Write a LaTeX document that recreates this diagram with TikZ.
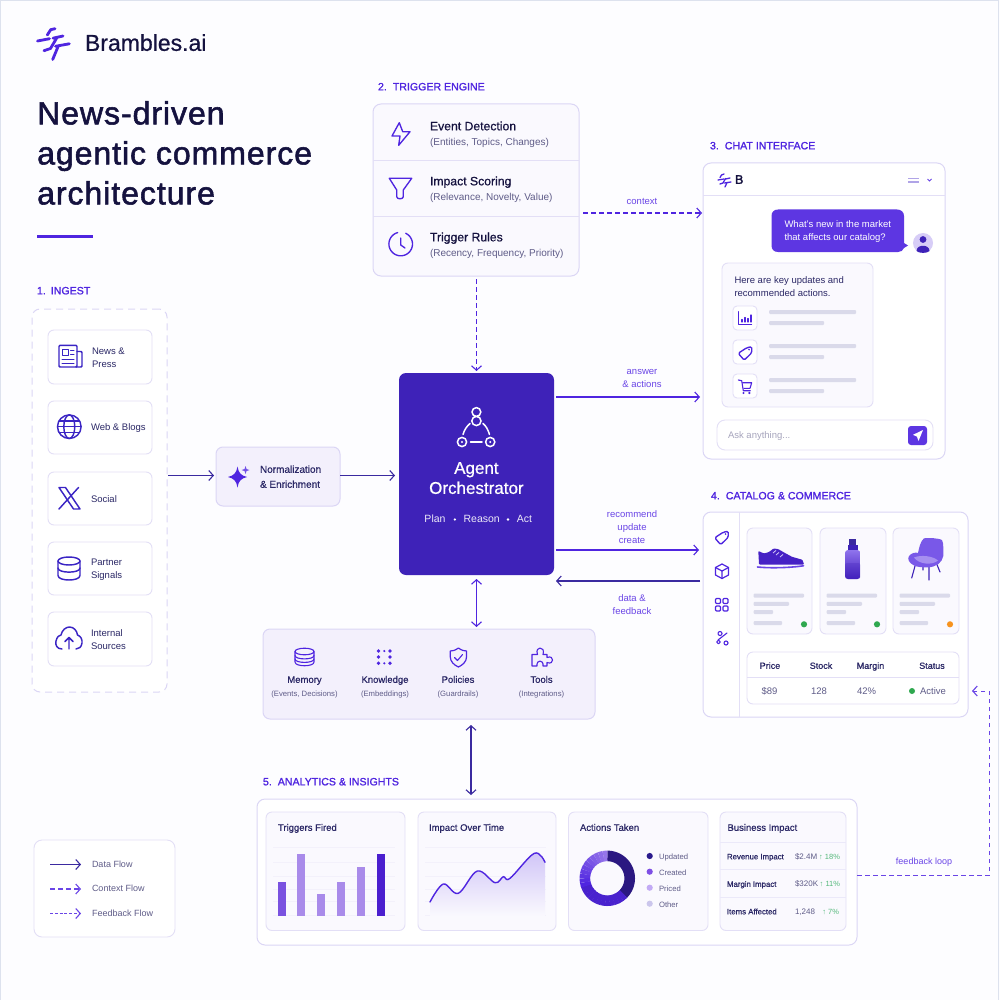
\documentclass[tikz,border=0pt]{standalone}
\usepackage{fontspec}
\usetikzlibrary{arrows.meta,calc}
\setmainfont{Liberation Sans}
\newfontfamily\medf[FakeBold=0.7]{Liberation Sans}
\newfontfamily\semf[FakeBold=1.3]{Liberation Sans}
\newfontfamily\boldf[FakeBold=2.2]{Liberation Sans}
\newfontfamily\titlef[FakeBold=1.7,LetterSpace=3]{Liberation Sans}
\definecolor{pagebg}{HTML}{FDFDFF}
\definecolor{edgeline}{HTML}{DDE2EE}
\definecolor{ink}{HTML}{15123F}
\definecolor{inksoft}{HTML}{2B2866}
\definecolor{greytext}{HTML}{5F5C88}
\definecolor{violet}{HTML}{4F25E0}
\definecolor{ingestblue}{HTML}{3A24C4}
\definecolor{indigoline}{HTML}{3B2AA0}
\definecolor{orchfill}{HTML}{3E22B8}
\definecolor{cardline}{HTML}{E3DFF6}
\definecolor{panelline}{HTML}{DBD6F5}
\definecolor{lav}{HTML}{F3F0FC}
\definecolor{softfill}{HTML}{FAF9FE}
\definecolor{skeleton}{HTML}{DADAEA}
\definecolor{labelviolet}{HTML}{6A45E6}
\definecolor{ringlight}{HTML}{9575EA}
\definecolor{okgreen}{HTML}{2FA84F}
\definecolor{upgreen}{HTML}{55B97B}
\definecolor{amber}{HTML}{F7931E}
\newcommand{\fs}[2]{\fontsize{#1}{#2}\selectfont}
% boxes are given by their corners in pixel-like units
\newcommand{\card}[6][]{%
  \pgfmathsetmacro\bw{#5-#3}\pgfmathsetmacro\bh{#6-#4}%
  \node[#1,anchor=north west,minimum width=\bw pt,minimum height=\bh pt,inner sep=0pt,outer sep=0pt] (#2) at (#3,#4) {};}
\newcounter{labno}
\newcommand{\lab}[4][]{\stepcounter{labno}\node[lbl,#1] (t\arabic{labno}) at (#2,#3) {#4};}
\newcommand{\tagicon}[2]{\begin{scope}[shift={(#1,#2)}]
  \draw[icon,rounded corners=1.5pt] (-6.8,0.3) -- (1.8,-5.3) -- (6.8,-6.3) -- (6.8,-0.3) -- (-0.8,7.2) -- cycle;
  \fill[violet] (4,-3.4) circle[radius=0.9pt];
\end{scope}}
\newcommand{\skeletonline}[3]{\fill[skeleton,rounded corners=1pt] (#1,#3-2) rectangle (#2,#3+2);}
\tikzset{
  lbl/.style={inner sep=0pt,outer sep=0pt,text=inksoft,anchor=mid,yshift=-0.7pt},
  whitecard/.style={draw=cardline,line width=0.9pt,fill=white,rounded corners=6pt},
  softcard/.style={draw=cardline,line width=0.9pt,fill=softfill,rounded corners=6pt},
  panel/.style={draw=panelline,line width=1pt,fill=white,rounded corners=8pt},
  lavpanel/.style={draw=panelline,line width=1pt,fill=lav,rounded corners=7pt},
  icon/.style={draw=violet,line width=1.35pt,line join=round,line cap=round},
  sectionhead/.style={anchor=mid west,text=violet,font=\semf\fs{10.6}{13}},
  flowlabel/.style={text=labelviolet,font=\fs{9.5}{13},align=center,anchor=center},
  barb/.style={-{Straight Barb[length=4.5pt,width=10pt,line width=1.1pt]}},
  databarb/.style={line width=1.4pt,draw=indigoline,barb},
  actionbarb/.style={line width=1.4pt,draw=violet,barb},
  contextbarb/.style={line width=1.05pt,draw=violet,dash pattern=on 4.5pt off 3.5pt,barb},
  twoway/.style={line width=1.1pt,{Straight Barb[length=4.5pt,width=10pt,line width=1.1pt]}-{Straight Barb[length=4.5pt,width=10pt,line width=1.1pt]}},
  title1/.style={anchor=north west,inner sep=0pt,text=ink,font=\titlef\fs{32}{40},align=left},
  cell/.style={font=\fs{9.5}{12},text=greytext},
  cellhead/.style={font=\medf\fs{9}{12},text=inksoft},
  tiny/.style={font=\fs{7.7}{10},text=greytext},
  rowhead/.style={anchor=mid west,font=\medf\fs{7.8}{10},text=inksoft},
  rowval/.style={anchor=mid west,font=\fs{8}{10},text=greytext},
  rowdelta/.style={anchor=mid east,font=\fs{7.5}{10},text=upgreen},
  cardtitle/.style={anchor=mid west,font=\medf\fs{9.5}{12},text=inksoft},
}
\begin{document}
\begin{tikzpicture}[x=1pt,y=-1pt]
\useasboundingbox (0,0) rectangle (1000,1000);
\fill[pagebg] (0,0) rectangle (1000,1000);
\draw[edgeline,line width=1pt] (0.5,1000) -- (0.5,0.5) -- (998.5,0.5) -- (998.5,1000);

% ---- brand mark and heading ----
\begin{scope}[draw=violet,line width=2.8pt,line cap=round,line join=round]
  \draw (55,28.7) -- (50.7,29.7) -- (47.3,35);
  \draw (37.5,41) -- (49.5,38.7);
  \draw (53,38.2) -- (63,36);
  \draw (57,37.5) -- (50.5,48.5) -- (44,50.7);
  \draw (55.5,46.3) -- (69.3,43.8);
  \draw (58.3,46) -- (52.7,59.5);
\end{scope}
\lab[anchor=mid west,text=ink,font=\medf\fs{23}{28}]{85}{47.5}{Brambles.ai}
\node[title1] (headline) at (37,101) {News-driven\\agentic commerce\\architecture};
\fill[violet] (37,235.3) rectangle (93,238);

% ---- 1. ingest ----
\lab[sectionhead]{37}{291}{1.\hspace{5pt}INGEST}
\card[draw=panelline,line width=1pt,dash pattern=on 7pt off 5pt,fill=white,rounded corners=8pt]{ingest}{32}{309}{167}{692}
\card[whitecard]{newsC}{48}{330}{152}{384}
\card[whitecard]{webC}{48}{401}{152}{454}
\card[whitecard]{socialC}{48}{472}{152}{525}
\card[whitecard]{partnerC}{48}{542}{152}{595}
\card[whitecard]{internalC}{48}{612}{152}{666}
\lab[anchor=west,font=\fs{9.5}{13.5},align=left]{92}{357}{News \&\\Press}
\lab[anchor=west,font=\fs{9.5}{13.5}]{91}{427}{Web \& Blogs}
\lab[anchor=west,font=\fs{9.5}{13.5}]{91}{498.5}{Social}
\lab[anchor=west,font=\fs{9.5}{13.5},align=left]{91}{569}{Partner\\Signals}
\lab[anchor=west,font=\fs{9.5}{13.5},align=left]{91}{639}{Internal\\Sources}
\begin{scope}[icon/.append style={draw=ingestblue,line width=1.45pt}]
% newspaper
\draw[icon,rounded corners=1pt] (59,345.3) rectangle (77,367);
\draw[icon,rounded corners=1pt] (77,351.5) -- (82,351.5) -- (82,367) -- (76,367);
\draw[icon,line width=1pt] (62,349.5) rectangle (68,355.5);
\draw[icon,line width=1pt] (70.5,350) -- (74,350) (70.5,354) -- (74,354) (62,359.5) -- (74,359.5) (62,363) -- (74,363);
% globe
\draw[icon] (69.3,426.7) circle[radius=11.8pt];
\draw[icon] (69.3,426.7) ellipse[x radius=5.5pt,y radius=11.8pt];
\draw[icon] (57.5,426.7) -- (81,426.7) (59,421) -- (79.5,421) (59,432.4) -- (79.5,432.4);
% X mark
\draw[icon] (59,487.5) -- (65.5,487.5) -- (80,509) -- (73.5,509) -- cycle;
\draw[icon] (78.5,487.5) -- (59,509);
% database
\draw[icon] (69,561) ellipse[x radius=11pt,y radius=4pt];
\draw[icon] (58,561) -- (58,575.5) .. controls (58,581.5) and (80,581.5) .. (80,575.5) -- (80,561);
\draw[icon] (58,568) .. controls (58,573.5) and (80,573.5) .. (80,568);
% cloud upload
\draw[icon] (62,649) .. controls (57,649) and (55,645) .. (56,641) .. controls (57,637) and (59,635) .. (61,635) .. controls (62,630) and (66,627) .. (69.5,627) .. controls (74,627) and (77,631) .. (77.5,635) .. controls (81,636) and (82.5,640) .. (82,643) .. controls (81.5,647) and (79,649) .. (76,649);
\draw[icon] (69,649) -- (69,637.5) (65,641.5) -- (69,637.5) -- (73,641.5);
\end{scope}

% ---- normalization ----
\card[lavpanel]{norm}{216}{447}{340}{506}
\lab[anchor=west,font=\medf\fs{10}{15},align=left]{260}{476}{Normalization\\\& Enrichment}
\fill[violet] (237.5,466.5) .. controls (238.5,473) and (241,475.5) .. (247,477) .. controls (241,478.5) and (238.5,481) .. (237.5,487.5) .. controls (236.5,481) and (234,478.5) .. (228,477) .. controls (234,475.5) and (236.5,473) .. (237.5,466.5) -- cycle;
\fill[violet!80!white] (245.5,466) -- (246.5,469) -- (249.5,470) -- (246.5,471) -- (245.5,474) -- (244.5,471) -- (241.5,470) -- (244.5,469) -- cycle;

% ---- 2. trigger engine ----
\lab[sectionhead]{378}{87}{2.\hspace{6pt}TRIGGER ENGINE}
\card[panel,fill=softfill]{trigger}{373}{104}{579}{276}
\draw[cardline,line width=1pt] (373,160.5) -- (579,160.5) (373,217) -- (579,217);
\lab[anchor=mid west,font=\medf\fs{12.2}{14},text=ink]{430}{127}{Event Detection}
\lab[anchor=mid west,font=\fs{10}{13},text=greytext]{430}{142.5}{(Entities, Topics, Changes)}
\lab[anchor=mid west,font=\medf\fs{12.2}{14},text=ink]{430}{182}{Impact Scoring}
\lab[anchor=mid west,font=\fs{10}{13},text=greytext]{430}{197}{(Relevance, Novelty, Value)}
\lab[anchor=mid west,font=\medf\fs{12.2}{14},text=ink]{430}{238}{Trigger Rules}
\lab[anchor=mid west,font=\fs{10}{13},text=greytext]{430}{253.5}{(Recency, Frequency, Priority)}
\draw[icon] (399.3,122.7) -- (392,136) -- (400,136) -- (398.7,145.3) -- (410,131.7) -- (402.7,131.7) -- cycle;
\draw[icon] (389.3,178.3) -- (411.7,178.3) -- (403.3,190) -- (403.3,196.7) .. controls (403.3,199.5) and (396.7,199.5) .. (396.7,196.7) -- (396.7,190) -- cycle;
\draw[icon] plot[domain=25:345,samples=40] ({400.7+11.8*sin(\x)},{244-11.8*cos(\x)});
\draw[icon] (400.7,238) -- (400.7,245) -- (405,248);

% ---- 3. chat interface ----
\lab[sectionhead]{710}{146}{3.\hspace{6pt}CHAT INTERFACE}
\card[panel]{chat}{703}{163}{945}{459}
\draw[cardline,line width=1pt] (703,196) -- (945,196);
\begin{scope}[draw=violet,line width=1.3pt,line cap=round,line join=round]
  \draw (724,174) -- (721.5,175) -- (720,177.5);
  \draw (718,180) -- (724,179);
  \draw (725.5,179) -- (730,178);
  \draw (725.5,178.5) -- (723,183) -- (720,184);
  \draw (724.5,183) -- (731,182);
  \draw (727,182.5) -- (725,187);
\end{scope}
\lab[anchor=mid west,font=\boldf\fs{12.5}{14},text=ink]{735}{180.5}{B}
\draw[skeleton!70!violet,line width=1.2pt] (908,178.3) -- (919,178.3) (908,182) -- (919,182);
\draw[labelviolet,line width=1pt] (927.5,179) -- (929.5,181) -- (931.5,179);
\path[fill=violet!92!white] (778,209.5) -- (897,209.5) .. controls (901,209.5) and (904,212) .. (904,216) -- (904,243) -- (908,245.5) -- (904,248) .. controls (903,250.5) and (901,252) .. (898,252) -- (778,252) .. controls (774,252) and (771.5,249.5) .. (771.5,245.5) -- (771.5,216) .. controls (771.5,212) and (774,209.5) .. (778,209.5) -- cycle;
\lab[anchor=west,font=\fs{9.5}{13.5},align=left,text=white]{784.5}{231}{What's new in the market\\that affects our catalog?}
\fill[lav!80!violet!90!white] (923,243) circle[radius=10pt];
\fill[orchfill] (923,239.5) circle[radius=3.4pt];
\fill[orchfill] (916.5,251) .. controls (916.5,244) and (929.5,244) .. (929.5,251) .. controls (927,253.5) and (919,253.5) .. (916.5,251) -- cycle;
\card[softcard]{reply}{722}{263}{873}{407}
\lab[anchor=west,font=\fs{9.5}{13},align=left]{734.5}{285.5}{Here are key updates and\\recommended actions.}
\card[whitecard,rounded corners=4pt]{replyA}{733}{306}{757}{330}
\card[whitecard,rounded corners=4pt]{replyB}{733}{340}{757}{364}
\card[whitecard,rounded corners=4pt]{replyC}{733}{374}{757}{398}
\draw[icon,line width=1pt] (738.7,311.7) -- (738.7,324) -- (751.7,324);
\draw[icon,line width=1.1pt] (742,322) -- (742,319.5) (745,322) -- (745,317.5) (748,322) -- (748,318.5) (751,322) -- (751,315);
\tagicon{745}{353}
\draw[icon,line width=1.1pt] (738.3,380) -- (741.7,380.7) -- (743.3,390.7) -- (750.3,390.7);
\draw[icon,line width=1.1pt] (742.7,382.7) -- (751.7,382.7) -- (750,388.3) -- (743.9,388.3);
\fill[violet] (743.5,393) circle[radius=1.2pt] (749.3,393) circle[radius=1.2pt];
\skeletonline{769}{856}{312}\skeletonline{769}{824}{323}
\skeletonline{769}{856}{346}\skeletonline{769}{824}{357}
\skeletonline{769}{856}{380}\skeletonline{769}{824}{391}
\card[whitecard,rounded corners=8pt]{askbar}{717}{420}{933}{450}
\lab[anchor=mid west,font=\fs{9.5}{12},text=greytext!55!white]{728}{435.5}{Ask anything...}
\card[fill=violet!92!white,rounded corners=3pt]{sendbtn}{908}{426}{927}{445}
\fill[white] (923,430) -- (913,434.8) -- (917,436.7) -- (918.5,441) -- cycle;

% ---- 4. catalog and commerce ----
\lab[sectionhead]{711}{496}{4.\hspace{6pt}CATALOG \& COMMERCE}
\card[panel]{catalog}{703}{512}{968}{717}
\draw[cardline,line width=1pt] (739.5,512) -- (739.5,717);
\tagicon{721.5}{537.5}
% cube
\draw[icon,line width=1.2pt] (722,564) -- (728.5,567.5) -- (728.5,575) -- (722,578.5) -- (715.5,575) -- (715.5,567.5) -- cycle;
\draw[icon,line width=1.2pt] (715.5,567.5) -- (722,571) -- (728.5,567.5) (722,571) -- (722,578.5);
% grid of four tiles
\draw[icon,rounded corners=1pt,line width=1.2pt] (715.5,598.5) rectangle (720.5,603.5) (723,598.5) rectangle (728,603.5) (715.5,606) rectangle (720.5,611) (723,606) rectangle (728,611);
% discount marks
\draw[icon,line width=1.1pt] (720,633.5) circle[radius=2pt] (726,643) circle[radius=2pt] (718.5,642) circle[radius=1.8pt] (718,640) -- (727,633);
\card[softcard]{prodA}{747}{528}{812}{634}
\card[softcard]{prodB}{820}{528}{886}{634}
\card[softcard]{prodC}{893}{528}{959}{634}
\foreach \off/\dotcol in {0/okgreen,73/okgreen,146/amber}{
  \skeletonline{753.5+\off}{804+\off}{595.7}
  \skeletonline{753.5+\off}{789+\off}{603.8}
  \skeletonline{753.5+\off}{773+\off}{612}
  \skeletonline{753.5+\off}{782+\off}{623}
  \fill[\dotcol] (804+\off,624.3) circle[radius=3.1pt];
}
% sneaker
\fill[violet!88!black,rounded corners=0.8pt] (758.3,551) -- (764,553.5) -- (769,552) -- (773.5,548.5) -- (778,549) -- (785,553) -- (792,556.8) -- (802.5,559.8) -- (804,564.5) -- (759,564.5) -- cycle;
\draw[white!75!violet,line width=0.8pt] (773,553) -- (776,550.5) (776,555) -- (779,552.5) (780,557) -- (783,554.5);
\draw[labelviolet,line width=1.6pt,line cap=round] (757.5,567) .. controls (770,568.3) and (790,567.8) .. (803.5,565.8);
% spray bottle
\fill[indigoline] (849,538.7) rectangle (855.7,545);
\fill[orchfill] (847.5,545) rectangle (857.5,550);
\path[rounded corners=3pt,top color=labelviolet!75!white,bottom color=violet!85!black] (845,550) rectangle (860.3,579);
\fill[orchfill,opacity=0.25,rounded corners=2pt] (845,563) rectangle (860.3,579);
% armchair
\draw[orchfill,line width=1.1pt,line cap=round] (915,566) -- (911.7,578) (929,567) -- (929,580) (936.7,564) -- (940,572) (923,567) -- (923,570);
\path[fill=labelviolet!90!white] (924,538.3) .. controls (930,537.5) and (938,538.5) .. (941,539.5) .. controls (943,540.5) and (943.5,543) .. (943.3,556) .. controls (942,563) and (936,567) .. (928,567.3) .. controls (922,567.5) and (917,567) .. (914,565.5) .. controls (909,563) and (907,559) .. (909,556) .. controls (911,553) and (916,552) .. (918,553) .. controls (919,548) and (920.5,541) .. (924,538.3) -- cycle;
\path[fill=labelviolet!60!white] (914,557.5) .. controls (921,554.5) and (933,556) .. (938,560.5) .. controls (932,565.5) and (919,564.5) .. (914,557.5) -- cycle;
\card[whitecard]{stats}{747}{652}{959}{704}
\draw[cardline,line width=1pt] (747,677.5) -- (959,677.5);
\lab[cellhead]{770}{665.5}{Price}
\lab[cellhead]{821}{665.5}{Stock}
\lab[cellhead]{870.5}{665.5}{Margin}
\lab[cellhead]{932}{665.5}{Status}
\lab[cell]{769.5}{691}{\$89}
\lab[cell]{819}{691}{128}
\lab[cell]{866.5}{691}{42\%}
\fill[okgreen] (912,691) circle[radius=3pt];
\lab[cell]{933}{691}{Active}

% ---- orchestrator ----
\card[fill=orchfill,draw=none,rounded corners=7pt]{orch}{399}{373}{554}{575}
\begin{scope}[draw=white,line width=1.5pt,line cap=round]
  \draw (476.4,412) circle[radius=4.4pt] (476.4,421) circle[radius=4.6pt] (462,442) circle[radius=4.6pt] (490.2,442) circle[radius=4.6pt];
  \draw (470.5,442) -- (482,442);
  \draw (463,434.5) .. controls (464.5,429.5) and (467,426) .. (470,423.5);
  \draw (483,423.5) .. controls (486,426) and (488,429.5) .. (489.5,434.5);
\end{scope}
\fill[white] (462,442) circle[radius=1.2pt] (490.2,442) circle[radius=1.2pt];
\lab[text=white,font=\medf\fs{17}{20}]{476.4}{470.5}{Agent}
\lab[text=white,font=\medf\fs{17}{20}]{476.4}{490.5}{Orchestrator}
\lab[text=white!90!orchfill,font=\fs{10.5}{13}]{435}{519.5}{Plan}
\lab[text=white!90!orchfill,font=\fs{10.5}{13}]{481.7}{519.5}{Reason}
\lab[text=white!90!orchfill,font=\fs{10.5}{13}]{524.5}{519.5}{Act}
\fill[white] (454.8,519.5) circle[radius=1.3pt] (508,519.5) circle[radius=1.3pt];

% ---- shared services ----
\card[lavpanel]{services}{263}{629}{595}{719}
\draw[icon,line width=1.1pt] (304.5,651.5) ellipse[x radius=9.5pt,y radius=3.3pt];
\draw[icon,line width=1.1pt] (295,651.5) -- (295,662) .. controls (295,667) and (314,667) .. (314,662) -- (314,651.5);
\draw[icon,line width=1.1pt] (295,655.5) .. controls (295,660) and (314,660) .. (314,655.5) (295,659) .. controls (295,663.5) and (314,663.5) .. (314,659);
\fill[violet] (378.5,651) circle[radius=1.9pt] (390,651) circle[radius=1.9pt] (384.3,651) circle[radius=1.2pt]
  (378.5,657) circle[radius=1.9pt] (390,657) circle[radius=1.9pt]
  (378.5,663.3) circle[radius=1.9pt] (390,663.3) circle[radius=1.9pt] (384.3,663.3) circle[radius=1.2pt];
\draw[icon,line width=1.2pt] (458.4,648) .. controls (455,650.5) and (452.5,651) .. (450.3,651) -- (450.3,657) .. controls (450.3,661.5) and (454,665) .. (458.4,667) .. controls (462.8,665) and (466.5,661.5) .. (466.5,657) -- (466.5,651) .. controls (464.3,651) and (461.8,650.5) .. (458.4,648) -- cycle;
\draw[icon,line width=1.1pt] (454.5,657.5) -- (457.5,660.5) -- (462.5,654.5);
\draw[icon,line width=1.1pt] (532,654.5) -- (537.5,654.5) .. controls (536,650) and (538,648) .. (540,648) .. controls (542.5,648) and (544.3,650) .. (543,654.5) -- (547,654.5) -- (547,657.5) .. controls (551,656) and (552.5,658) .. (552.5,660) .. controls (552.5,662) and (551,664) .. (547,662.5) -- (547,666) -- (543,666) .. controls (543.5,662.5) and (541.5,661) .. (540,661) .. controls (538.5,661) and (536.5,662.5) .. (537,666) -- (532,666) -- cycle;
\foreach \cx/\head/\sub in {304.5/Memory/{(Events, Decisions)},385/Knowledge/{(Embeddings)},458/Policies/{(Guardrails)},541.5/Tools/{(Integrations)}}{
  \lab[font=\medf\fs{9.5}{12}]{\cx}{679.5}{\head}
  \lab[tiny]{\cx}{693.5}{\sub}
}

% ---- 5. analytics and insights ----
\lab[sectionhead]{263}{782}{5.\hspace{6pt}ANALYTICS \& INSIGHTS}
\card[panel]{analytics}{257}{799}{857}{945}
\card[softcard]{chartA}{266}{812}{405}{930.5}
\card[softcard]{chartB}{418}{812}{556}{930.5}
\card[softcard]{chartC}{568.5}{812}{708}{930.5}
\card[softcard]{chartD}{720}{812}{846}{930.5}
\lab[cardtitle]{278}{827.5}{Triggers Fired}
\lab[cardtitle]{429}{827.5}{Impact Over Time}
\lab[cardtitle]{580}{827.5}{Actions Taken}
\lab[cardtitle]{727.5}{827.5}{Business Impact}
\foreach \gy in {847.7,862.3,876.7,889.3,901.7,915.7}{
  \draw[cardline!45!white,line width=0.5pt] (273,\gy) -- (395,\gy);
  \draw[cardline!45!white,line width=0.5pt] (425,\gy) -- (546,\gy);
}
\foreach \bx/\bt/\bc in {281.7/882.3/7A52E0,301.3/853.7/A98BEA,321.3/894.3/A98BEA,341/882.3/A98BEA,360.7/867/A98BEA,380.7/853.7/4B1FCF}{
  \definecolor{barcol}{HTML}{\bc}
  \fill[barcol] (\bx-4.1,\bt) rectangle (\bx+4.1,915.7);
}
\path[top color=labelviolet!32!white,bottom color=softfill] plot[smooth,tension=0.6] coordinates {(430,902) (443.3,884) (458.3,893.3) (477.3,871) (495,882.7) (503.3,876.7) (510,878.3) (534.3,853.3) (545,862.3)} -- (545,916) -- (430,916) -- cycle;
\draw[violet,line width=1.4pt,line cap=round] plot[smooth,tension=0.6] coordinates {(430,902) (443.3,884) (458.3,893.3) (477.3,871) (495,882.7) (503.3,876.7) (510,878.3) (534.3,853.3) (545,862.3)};
% ring chart, angles clockwise from twelve o'clock
\draw[line width=10.6pt,draw=orchfill!70!black] plot[domain=0:135,samples=40] ({607.3+22.4*sin(\x)},{878.3-22.4*cos(\x)});
\foreach \a in {134,144,...,244}{
  \draw[line width=10.6pt,draw=violet!92!black] plot[domain=\a:\a+11,samples=4] ({607.3+22.4*sin(\x)},{878.3-22.4*cos(\x)});
}
\foreach \a in {250,260,...,350}{
  \pgfmathsetmacro\mx{\a-250}
  \draw[line width=10.6pt,draw=ringlight!\mx!violet] plot[domain=\a:\a+10.2,samples=4] ({607.3+22.4*sin(\x)},{878.3-22.4*cos(\x)});
}
\foreach \ly/\name/\cc in {856/Updated/2A1A8C,871.7/Created/7E4FE5,887.7/Priced/C2AAF5,903.7/Other/CBC6EC}{
  \definecolor{dotc}{HTML}{\cc}
  \fill[dotc] (649.7,\ly) circle[radius=3.1pt];
  \lab[anchor=mid west,tiny]{659}{\ly}{\name}
}
\draw[cardline!70!white,line width=0.6pt] (720,842) -- (846,842) (720,869.3) -- (846,869.3) (720,897.3) -- (846,897.3);
\lab[rowhead]{727}{856}{Revenue Impact}
\lab[rowhead]{727}{883.5}{Margin Impact}
\lab[rowhead]{727}{911}{Items Affected}
\lab[rowval]{795}{856}{\$2.4M}
\lab[rowval]{795}{883.5}{\$320K}
\lab[rowval]{795}{911}{1,248}
\lab[rowdelta]{840}{856}{↑ 18\%}
\lab[rowdelta]{840}{883.5}{↑ 11\%}
\lab[rowdelta]{839}{911}{↑ 7\%}

% ---- legend ----
\card[whitecard,rounded corners=8pt]{legend}{34}{840}{175}{937}
\coordinate (legA1) at (50,864.5); \coordinate (legA2) at (81,864.5);
\coordinate (legB1) at (50,889); \coordinate (legB2) at (81,889);
\coordinate (legC1) at (50,913.5); \coordinate (legC2) at (81,913.5);
\draw[databarb,line width=1.1pt] (legA1) -- (legA2);
\draw[contextbarb,draw=labelviolet] (legB1) -- (legB2);
\draw[line width=0.9pt,draw=labelviolet,dash pattern=on 3pt off 1.8pt,barb] (legC1) -- (legC2);
\lab[anchor=mid west,font=\fs{9}{11},text=greytext]{92}{864}{Data Flow}
\lab[anchor=mid west,font=\fs{9}{11},text=greytext]{92}{888.5}{Context Flow}
\lab[anchor=mid west,font=\fs{9}{11},text=greytext]{92}{913}{Feedback Flow}

% ---- connector rows ----
\coordinate (rowInput) at (0,475.5);
\coordinate (rowContext) at (0,213);
\coordinate (rowAnswer) at (0,397);
\coordinate (rowAction) at (0,550);
\coordinate (rowData) at (0,581);
\coordinate (colOrch) at (476.5,0);
\coordinate (colLink) at (471,0);
\coordinate (rowLoop) at (0,875);
\coordinate (loopCorner) at (989,875);
\coordinate (loopTop) at (989,691);

\draw[databarb,shorten <=1pt,shorten >=2pt] (ingest.east |- rowInput) -- (norm.west |- rowInput);
\draw[databarb,shorten >=4pt] (norm.east |- rowInput) -- (orch.west |- rowInput);
\draw[contextbarb,shorten <=3pt,shorten >=2pt] (colOrch |- trigger.south) -- (colOrch |- orch.north);
\draw[contextbarb,shorten <=4pt,shorten >=1pt] (trigger.east |- rowContext) -- (chat.west |- rowContext);
\draw[actionbarb,shorten <=2pt,shorten >=3pt] (orch.east |- rowAnswer) -- (chat.west |- rowAnswer);
\draw[actionbarb,shorten <=2pt,shorten >=4pt] (orch.east |- rowAction) -- (catalog.west |- rowAction);
\draw[databarb,shorten <=3pt,shorten >=2pt] (catalog.west |- rowData) -- (orch.east |- rowData);
\draw[twoway,draw=violet,shorten <=4pt,shorten >=2pt] (colOrch |- orch.south) -- (colOrch |- services.north);
\draw[twoway,draw=indigoline,shorten <=6pt,shorten >=4pt] (colLink |- services.south) -- (colLink |- analytics.north);
\draw[contextbarb,draw=labelviolet,line width=0.9pt,shorten >=4pt] (analytics.east |- rowLoop) -- (loopCorner) -- (loopTop) -- (catalog.east |- loopTop);

\lab[flowlabel]{642}{201}{context}
\lab[flowlabel]{642}{377.5}{answer\\\& actions}
\lab[flowlabel]{632}{526}{recommend\\update\\create}
\lab[flowlabel]{632}{603.5}{data \&\\feedback}
\lab[flowlabel,font=\fs{9}{12}]{924}{861.5}{feedback loop}
\end{tikzpicture}
\end{document}
